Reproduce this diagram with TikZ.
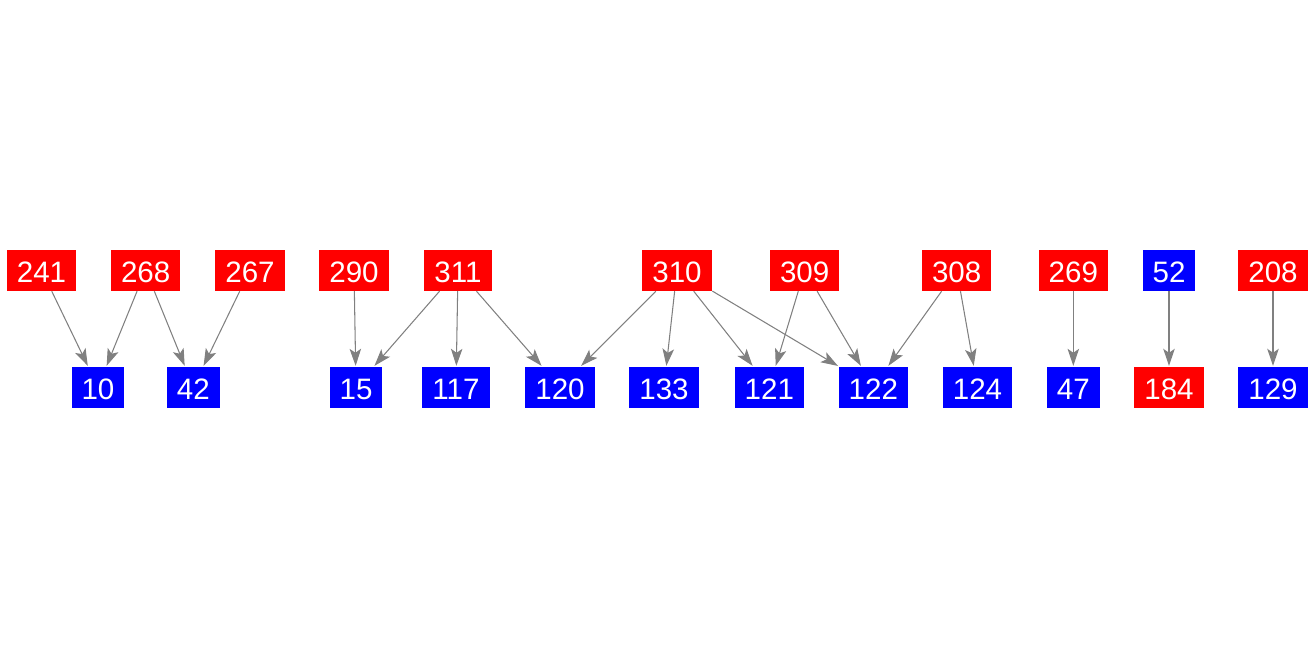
\documentclass[tikz,border=0pt]{standalone}
\usepackage{fontspec}
\setmainfont{Liberation Sans}
\usetikzlibrary{arrows.meta}
\definecolor{vRed}{HTML}{FF0000}
\definecolor{vBlue}{HTML}{0000FF}
\definecolor{eGray}{HTML}{808080}
\newcommand{\vnode}[5]{%
 \node[vbox, fill=#5] (#1) at (#2,#3) {#4};}
\tikzset{
 vbox/.style={inner xsep=0.1cm, inner ysep=0pt, minimum width=0.51cm, minimum height=0.41cm,
  text height=0.25cm, text depth=0pt, text=white, font=\fontsize{8.4pt}{10pt}\selectfont},
 link/.style={-{Stealth[length=0.17cm, width=0.115cm, inset=0.04cm]}, eGray, line width=0.3pt}
}
\begin{document}
\begin{tikzpicture}[x=0.01cm, y=-0.01cm]
\useasboundingbox (0,0) rectangle (1315,656);
% upper row
\vnode{n241}{41.5}{270}{241}{vRed}
\vnode{n268}{145.7}{270}{268}{vRed}
\vnode{n267}{250}{270}{267}{vRed}
\vnode{n290}{354}{270}{290}{vRed}
\vnode{n311}{458}{270}{311}{vRed}
\vnode{n310}{677}{270}{310}{vRed}
\vnode{n309}{804.7}{270}{309}{vRed}
\vnode{n308}{956.7}{270}{308}{vRed}
\vnode{n269}{1073.3}{270}{269}{vRed}
\vnode{n52}{1169}{270}{52}{vBlue}
\vnode{n208}{1273}{270}{208}{vRed}
% lower row
\vnode{n10}{98}{387}{10}{vBlue}
\vnode{n42}{193.3}{387}{42}{vBlue}
\vnode{n15}{356}{387}{15}{vBlue}
\vnode{n117}{456}{387}{117}{vBlue}
\vnode{n120}{560}{387}{120}{vBlue}
\vnode{n133}{664}{387}{133}{vBlue}
\vnode{n121}{769.3}{387}{121}{vBlue}
\vnode{n122}{873.3}{387}{122}{vBlue}
\vnode{n124}{977.5}{387}{124}{vBlue}
\vnode{n47}{1073.3}{387}{47}{vBlue}
\vnode{n184}{1169}{387}{184}{vRed}
\vnode{n129}{1273}{387}{129}{vBlue}
% links
\draw[link] (n241) -- (n10);
\draw[link] (n268) -- (n10);
\draw[link] (n268) -- (n42);
\draw[link] (n267) -- (n42);
\draw[link] (n290) -- (n15);
\draw[link] (n311) -- (n15);
\draw[link] (n311) -- (n117);
\draw[link] (n311) -- (n120);
\draw[link] (n310) -- (n120);
\draw[link] (n310) -- (n133);
\draw[link] (n310) -- (n121);
\draw[link] (n310) -- (n122);
\draw[link] (n309) -- (n121);
\draw[link] (n309) -- (n122);
\draw[link] (n308) -- (n122);
\draw[link] (n308) -- (n124);
\draw[link] (n269) -- (n47);
\draw[link] (n52) -- (n184);
\draw[link] (n208) -- (n129);
\end{tikzpicture}
\end{document}
